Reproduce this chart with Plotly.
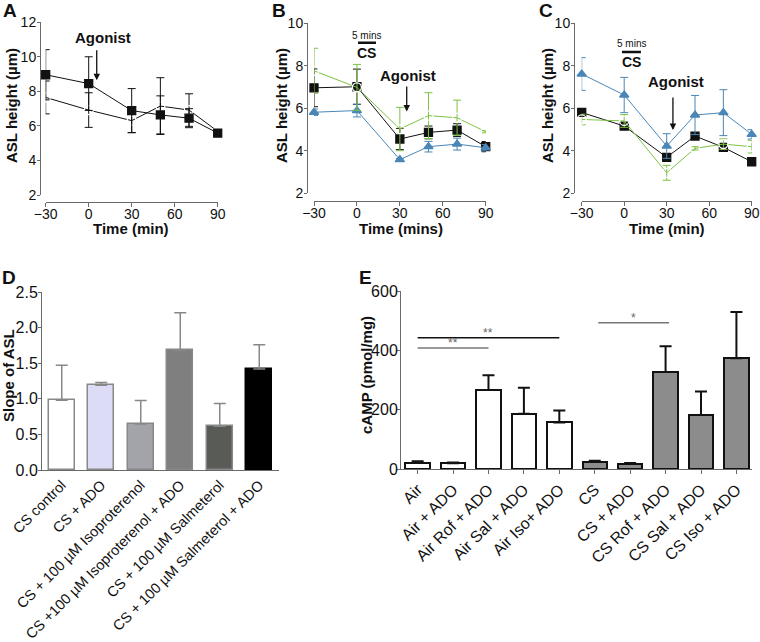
import plotly.graph_objects as go

W, H = 760, 642
FONT = "Arial, Liberation Sans, sans-serif"
AX = "#6a6a6a"
GREEN = "#7cc242"
BLUE = "#4a86b6"

# time points for the ASL panels
time = [-30, 0, 30, 50, 70, 90]

# panel A
a_sq = [8.95, 8.44, 6.88, 6.63, 6.44, 5.58]
a_sq_err = [1.45, 1.55, 1.27, 1.1, 0.55, 0.1]
a_ci = [7.64, 6.91, 6.3, 7.14, 6.91, 5.68]
a_ci_err = [0.95, 1.0, 0.7, 1.64, 0.94, 0.1]

# panel B
b_green = [7.76, 6.98, 5.02, 5.65, 5.55, 4.89]
b_green_err = [1.06, 1.08, 1.02, 1.08, 0.83, 0.05]
b_black = [6.96, 7.01, 4.55, 4.86, 4.97, 4.19]
b_black_err = [0.89, 0.83, 0.5, 0.3, 0.3, 0.24]
b_blue = [5.81, 5.89, 3.58, 4.19, 4.31, 4.14]
b_blue_err = [0.15, 0.3, 0.05, 0.25, 0.28, 0.15]

# panel C
c_blue = [7.61, 6.62, 4.22, 5.68, 5.79, 4.77]
c_blue_err = [0.77, 0.83, 0.58, 0.92, 1.08, 0.22]
c_black = [5.8, 5.16, 3.69, 4.69, 4.16, 3.48]
c_black_err = [0.1, 0.1, 0.08, 0.1, 0.1, 0.05]
c_green = [5.47, 5.4, 2.96, 4.11, 4.31, 4.19]
c_green_err = [0.25, 0.3, 0.35, 0.08, 0.25, 0.3]

# panel D
d_labels = ["CS control", "CS + ADO", "CS + 100 µM Isoproterenol",
            "CS +100 µM Isoproterenol + ADO", "CS + 100 µM Salmeterol",
            "CS + 100 µM Salmeterol + ADO"]
d_vals = [0.98, 1.19, 0.646, 1.68, 0.613, 1.42]
d_err = [0.49, 0.04, 0.33, 0.53, 0.32, 0.34]
d_colors = ["#ffffff", "#dcdcf6", "#a3a3aa", "#7f7f7f", "#595b56", "#000000"]

# panel E
e_labels = ["Air", "Air + ADO", "Air Rof + ADO", "Air Sal + ADO", "Air Iso+ ADO",
            "CS", "CS + ADO", "CS Rof + ADO", "CS Sal + ADO", "CS Iso + ADO"]
e_vals = [20, 19, 266, 186, 157, 23.5, 17, 327, 182, 373]
e_err = [6, 3, 50, 88, 40, 4.5, 3, 87, 79, 156]
e_colors = ["#ffffff"] * 5 + ["#8c8c8c"] * 5
# significance bars: (from, to, height, stars, colour)
e_sig = [(0, 2, 408, "**", "#777777"), (0, 4, 442, "**", "#111111"),
         (5.1, 7.1, 493, "*", "#777777")]


def px_x(p):
    return p / W


def px_y(p):
    return 1 - p / H


fig = go.Figure()


def line_trace(x, y, err, ax, symbol, color, fill, size=8):
    fig.add_trace(go.Scatter(
        x=x, y=y, xaxis=ax[0], yaxis=ax[1], mode="lines+markers",
        line=dict(color=color, width=1),
        marker=dict(symbol=symbol, size=size, color=fill,
                    line=dict(color=color, width=1.3)),
        error_y=dict(type="data", array=err, color=color, thickness=1, width=4),
        cliponaxis=False, showlegend=False))


line_trace(time, a_ci, a_ci_err, ("x", "y"), "circle-open", "#111111", "white", 9)
line_trace(time, a_sq, a_sq_err, ("x", "y"), "square", "#111111", "#111111", 8)

line_trace(time, b_black, b_black_err, ("x2", "y2"), "square", "#111111", "#111111", 8)
line_trace(time, b_blue, b_blue_err, ("x2", "y2"), "triangle-up", BLUE, BLUE, 8)
line_trace(time, b_green, b_green_err, ("x2", "y2"), "circle-open", GREEN, "white", 9)

line_trace(time, c_black, c_black_err, ("x3", "y3"), "square", "#111111", "#111111", 8)
line_trace(time, c_green, c_green_err, ("x3", "y3"), "circle-open", GREEN, "white", 9)
line_trace(time, c_blue, c_blue_err, ("x3", "y3"), "triangle-up", BLUE, BLUE, 8)

fig.add_trace(go.Bar(
    x=d_labels, y=d_vals, xaxis="x4", yaxis="y4", width=0.66,
    marker=dict(color=d_colors, line=dict(color=["#888888"] * 5 + ["#000000"], width=1.5)),
    error_y=dict(type="data", symmetric=False, array=d_err, arrayminus=[0] * 6,
                 color="#888888", thickness=1.5, width=6),
    showlegend=False))

fig.add_trace(go.Bar(
    x=e_labels, y=e_vals, xaxis="x5", yaxis="y5", width=0.69,
    marker=dict(color=e_colors, line=dict(color="#111111", width=2)),
    error_y=dict(type="data", symmetric=False, array=e_err, arrayminus=[0] * 10,
                 color="#111111", thickness=2, width=6),
    showlegend=False))

tickfont = dict(family=FONT, size=14, color="#111111")
bigtick = dict(family=FONT, size=16, color="#111111")
common = dict(showgrid=False, zeroline=False, showline=True, linecolor=AX, linewidth=1,
              ticks="outside", ticklen=4, tickcolor=AX, tickwidth=1, tickfont=tickfont,
              automargin=False)

# top row: Prism-style detached axes
top = {
    "": dict(xd=(45.7, 217.7), yax=40, yr=(2, 12), yd=(22, 195), xline=202),
    "2": dict(xd=(314, 485.7), yax=307, yr=(2, 10), yd=(23.2, 193.2), xline=201),
    "3": dict(xd=(581.7, 751.7), yax=574, yr=(2, 10), yd=(23.2, 193.2), xline=201),
}
layout_axes = {}
for k, v in top.items():
    layout_axes["xaxis" + k] = dict(
        common, domain=[px_x(v["xd"][0]), px_x(v["xd"][1])], range=[-30, 90],
        tickvals=[-30, 0, 30, 60, 90], anchor="free", position=px_y(v["xline"]),
        ticklabelstandoff=-5)
    layout_axes["yaxis" + k] = dict(
        common, domain=[px_y(v["yd"][1]), px_y(v["yd"][0])], range=list(v["yr"]),
        dtick=2, anchor="free", position=px_x(v["yax"]), ticklen=3,
        ticklabelstandoff=-2)

layout_axes["xaxis4"] = dict(
    common, domain=[px_x(42), px_x(279)], range=[-0.5, 5.5], anchor="y4",
    ticks="", tickangle=-45, tickfont=dict(family=FONT, size=14.5, color="#111111"))
layout_axes["yaxis4"] = dict(
    common, domain=[px_y(470), px_y(292)], range=[0, 2.5], dtick=0.5, tickformat=".1f",
    anchor="x4", tickfont=bigtick, ticklen=3, ticklabelstandoff=-3)
layout_axes["xaxis5"] = dict(
    common, domain=[px_x(401), px_x(752)], range=[-0.47, 9.44], anchor="y5",
    tickangle=-45, tickfont=bigtick)
layout_axes["yaxis5"] = dict(
    common, domain=[px_y(469), px_y(291)], range=[0, 600], dtick=200, anchor="x5",
    tickfont=bigtick, ticklen=3, ticklabelstandoff=-4)

ann = []
shapes = []


def paper_text(text, x, y, size, angle=0):
    ann.append(dict(text=text, x=px_x(x), y=px_y(y), xref="paper", yref="paper",
                    showarrow=False, textangle=angle, xanchor="center", yanchor="middle",
                    font=dict(family=FONT, size=size, color="#111111")))


# panel letters
for t, x, y in [("A", 10, 10), ("B", 279, 10), ("C", 546, 10), ("D", 9, 278), ("E", 365, 278)]:
    paper_text("<b>%s</b>" % t, x, y, 19)

# axis titles
for x in (11, 281, 547):
    paper_text("<b>ASL height (µm)</b>", x, 106, 15, -90)
paper_text("<b>Time (min)</b>", 131, 228, 15)
paper_text("<b>Time (mins)</b>", 401, 228, 15)
paper_text("<b>Time (min)</b>", 667, 228, 15)
paper_text("<b>Slope of ASL</b>", 9, 376, 15, -90)
paper_text("<b>cAMP (pmol/mg)</b>", 366, 375, 15, -90)


def data_text(text, x, y, ax, size):
    ann.append(dict(text=text, x=x, y=y, xref=ax[0], yref=ax[1], showarrow=False,
                    font=dict(family=FONT, size=size, color="#111111")))


def arrow(x, y0, y1, ax):
    ann.append(dict(text="", x=x, y=y1, ax=x, ay=y0, xref=ax[0], yref=ax[1],
                    axref=ax[0], ayref=ax[1], showarrow=True, arrowhead=2,
                    arrowsize=1, arrowwidth=1.3, arrowcolor="#111111"))


# agonist arrows and CS exposure bars
data_text("<b>Agonist</b>", 9.8, 11.1, ("x", "y"), 15)
arrow(5.6, 10.46, 8.63, ("x", "y"))

data_text("5 mins", 7.0, 9.44, ("x2", "y2"), 10)
data_text("<b>CS</b>", 7.0, 8.58, ("x2", "y2"), 14)
data_text("<b>Agonist</b>", 35.9, 7.56, ("x2", "y2"), 15)
arrow(34.8, 7.09, 5.84, ("x2", "y2"))
shapes.append(dict(type="line", xref="x2", yref="y2", x0=0.75, x1=13.3, y0=9.08, y1=9.08,
                   line=dict(color="#111111", width=2.5)))

data_text("5 mins", 4.8, 9.05, ("x3", "y3"), 10)
data_text("<b>CS</b>", 4.8, 8.19, ("x3", "y3"), 14)
data_text("<b>Agonist</b>", 36.5, 7.25, ("x3", "y3"), 15)
arrow(34.4, 6.57, 4.97, ("x3", "y3"))
shapes.append(dict(type="line", xref="x3", yref="y3", x0=-1.6, x1=11.8, y0=8.64, y1=8.64,
                   line=dict(color="#111111", width=2.5)))

# significance lines in E
for x0, x1, h, stars, col in e_sig:
    shapes.append(dict(type="line", xref="x5", yref="y5", x0=x0, x1=x1, y0=h, y1=h,
                       line=dict(color=col, width=1.5)))
    ann.append(dict(text=stars, x=(x0 + x1) / 2, y=h, xref="x5", yref="y5",
                    showarrow=False, yanchor="bottom", yshift=-4,
                    font=dict(family=FONT, size=12, color="#666666")))

fig.update_layout(
    width=W, height=H, margin=dict(l=0, r=0, t=0, b=0),
    paper_bgcolor="white", plot_bgcolor="white", showlegend=False,
    bargap=0, annotations=ann, shapes=shapes, **layout_axes)

# drop the page's default body margin so the figure sits at the window origin
fig.write_html("out.html", config={"displayModeBar": False},
               post_script="document.body.style.margin='0';")
